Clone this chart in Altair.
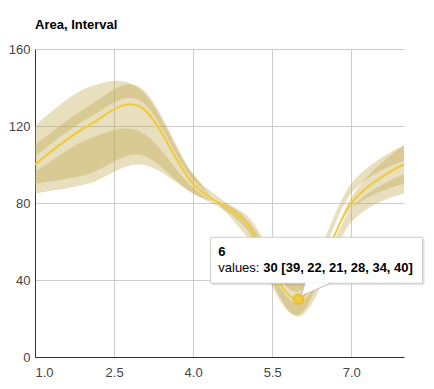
import altair as alt
import pandas as pd

# ---- data ----
xs = [1, 2, 3, 4, 5, 6, 7, 8]
values = [100, 120, 130, 90, 70, 30, 80, 100]
i0 = [90, 95, 105, 85, 74, 39, 77, 90]
i1 = [110, 130, 140, 95, 63, 22, 83, 110]
i2 = [85, 90, 100, 85, 67, 21, 70, 85]
i3 = [96, 113, 117, 88, 69, 28, 77, 95]
i4 = [104, 124, 133, 92, 70, 34, 85, 102]
i5 = [120, 140, 139, 95, 72, 40, 90, 110]
x_ticks = [1.0, 2.5, 4.0, 5.5, 7.0]
y_ticks = [0, 40, 80, 120, 160]
chart_title = "Area, Interval"
hover_index = 5  # the highlighted point (x = 6)

LINE = "#F1CA3A"
BAND = "#BFA74C"
FONT = "Arial, 'Liberation Sans', sans-serif"
W, H = 369, 308
X_DOM = [1, 8]
Y_DOM = [0, 160]
PX_X = W / (X_DOM[1] - X_DOM[0])
PX_Y = H / (Y_DOM[1] - Y_DOM[0])

line_df = pd.DataFrame({"x": xs, "v": values})
band_rows = []
for b, (lo, hi) in enumerate([(i0, i1), (i2, i3), (i4, i5)]):
    for x, a, c in zip(xs, lo, hi):
        band_rows.append({"x": x, "lo": a, "hi": c, "band": b})
band_df = pd.DataFrame(band_rows)

hx, hy = xs[hover_index], values[hover_index]
ivals = [i0, i1, i2, i3, i4, i5]
head = str(hx)
label = "values: "
bold = f"{hy} [" + ", ".join(str(s[hover_index]) for s in ivals) + "]"

pt_df = pd.DataFrame({"x": [hx], "v": [hy]})
# tooltip box, placed relative to the hovered point (pixel offsets -> data units)
box_df = pd.DataFrame({
    "x1": [hx - 88 / PX_X], "x2": [hx + 124 / PX_X],
    "y1": [hy + 62 / PX_Y], "y2": [hy + 16 / PX_Y],
})
shadow_df = pd.DataFrame({
    "x1": [hx - 86.5 / PX_X], "x2": [hx + 126 / PX_X],
    "y1": [hy + 60.5 / PX_Y], "y2": [hy + 14 / PX_Y],
})

xs_scale = alt.Scale(domain=X_DOM, nice=False, zero=False)
ys_scale = alt.Scale(domain=Y_DOM, nice=False)

x_axis = alt.Axis(values=x_ticks, format=".1f", title=None, grid=True, ticks=False,
                  labelPadding=9, domainColor="#333333", gridColor="#cccccc",
                  labelColor="#444444", labelFontSize=13, labelFont=FONT)
y_axis = alt.Axis(values=y_ticks, format="d", title=None, grid=True, ticks=False,
                  labelPadding=5, domainColor="#333333", gridColor="#cccccc",
                  labelColor="#444444", labelFontSize=13, labelFont=FONT)

bands = alt.Chart(band_df).mark_area(
    interpolate="cardinal", color=BAND, opacity=0.36
).encode(
    x=alt.X("x:Q", scale=xs_scale, axis=x_axis),
    y=alt.Y("lo:Q", scale=ys_scale, axis=y_axis, stack=None),
    y2="hi:Q",
    detail="band:N",
)

line = alt.Chart(line_df).mark_line(
    interpolate="cardinal", color=LINE, strokeWidth=2
).encode(
    x=alt.X("x:Q", scale=xs_scale),
    y=alt.Y("v:Q", scale=ys_scale),
)

shadow = alt.Chart(shadow_df).mark_rect(color="#000000", opacity=0.10).encode(
    x=alt.X("x1:Q", scale=xs_scale), x2="x2:Q",
    y=alt.Y("y1:Q", scale=ys_scale), y2="y2:Q",
)
box = alt.Chart(box_df).mark_rect(fill="white", stroke="#cccccc", strokeWidth=1).encode(
    x=alt.X("x1:Q", scale=xs_scale), x2="x2:Q",
    y=alt.Y("y1:Q", scale=ys_scale), y2="y2:Q",
)
tail = alt.Chart(pt_df).mark_point(
    shape="M6.5,-16.5L2.5,-3L32.5,-16.5", size=4, fill="white", stroke="#bbbbbb",
    strokeWidth=1, opacity=1, fillOpacity=1, strokeOpacity=1,
).encode(x=alt.X("x:Q", scale=xs_scale), y=alt.Y("v:Q", scale=ys_scale))

halo = alt.Chart(pt_df).mark_circle(size=190, color=LINE, opacity=0.3).encode(
    x=alt.X("x:Q", scale=xs_scale), y=alt.Y("v:Q", scale=ys_scale))
dot = alt.Chart(pt_df).mark_circle(size=95, color=LINE, opacity=1,
                                   stroke="#d8b32f", strokeWidth=1).encode(
    x=alt.X("x:Q", scale=xs_scale), y=alt.Y("v:Q", scale=ys_scale))

def txt(s, dx, dy, weight):
    return alt.Chart(pt_df).mark_text(
        text=s, align="left", baseline="alphabetic", dx=dx, dy=dy,
        font=FONT, fontSize=13, fontWeight=weight, color="#000000",
    ).encode(x=alt.X("x:Q", scale=xs_scale), y=alt.Y("v:Q", scale=ys_scale))

t_head = txt(head, -80.3, -43.3, "bold")
t_label = txt(label, -80.3, -26.8, "normal")
t_bold = txt(bold, -35.3, -26.8, "bold")

chart = alt.layer(
    bands, line, halo, dot, shadow, box, tail, t_head, t_label, t_bold
).properties(
    width=W, height=H,
    title=alt.TitleParams(chart_title, anchor="start", frame="group", font=FONT,
                          fontSize=13, fontWeight="bold", color="#000000",
                          baseline="alphabetic", offset=1),
    autosize=alt.AutoSizeParams(type="none"),
    padding={"left": 27, "top": 41, "right": 22, "bottom": 24},
).configure_view(stroke=None)

chart.save("out.html", embed_options={"renderer": "svg", "actions": False})
